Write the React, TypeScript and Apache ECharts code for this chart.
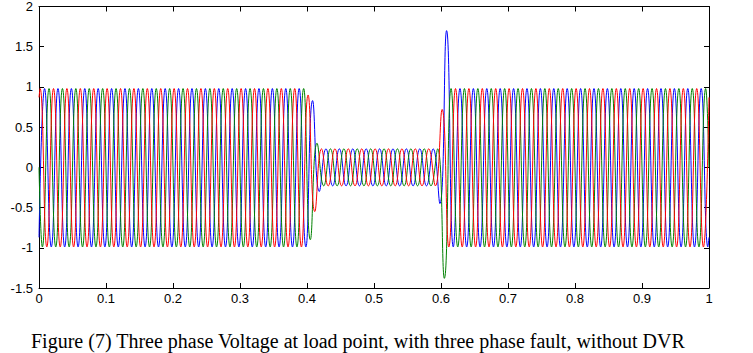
import React, { useEffect, useRef } from "react";
import * as echarts from "echarts";

// Half-cycle peak values (50 Hz -> one peak every 0.01 s)
const HALF_PERIOD = 0.01;
const RED_T0 = 1 / 600;
const GREEN_T0 = 0.005;
const BLUE_T0 = 1 / 120;

const redPeaks = [
  0.98, -0.99, 0.98, -0.99, 0.98, -0.99, 0.98, -0.99, 0.98, -0.99,
  0.98, -0.99, 0.98, -0.99, 0.98, -0.99, 0.98, -0.99, 0.98, -0.99,
  0.98, -0.99, 0.98, -0.99, 0.98, -0.99, 0.98, -0.99, 0.98, -0.99,
  0.98, -0.99, 0.98, -0.99, 0.98, -0.99, 0.98, -0.99, 0.98, -0.99,
  0.9, -0.55, 0.23, -0.23, 0.23, -0.23, 0.23, -0.23, 0.23, -0.23,
  0.23, -0.23, 0.23, -0.23, 0.23, -0.23, 0.23, -0.23, 0.23, -0.23,
  0.72, -0.99, 0.98, -0.99, 0.98, -0.99, 0.98, -0.99, 0.98, -0.99,
  0.98, -0.99, 0.98, -0.99, 0.98, -0.99, 0.98, -0.99, 0.98, -0.99,
  0.98, -0.99, 0.98, -0.99, 0.98, -0.99, 0.98, -0.99, 0.98, -0.99,
  0.98, -0.99, 0.98, -0.99, 0.98, -0.99, 0.98, -0.99, 0.98, -0.99,
];

const greenPeaks = [
  -0.99, 0.98, -0.99, 0.98, -0.99, 0.98, -0.99, 0.98, -0.99, 0.98,
  -0.99, 0.98, -0.99, 0.98, -0.99, 0.98, -0.99, 0.98, -0.99, 0.98,
  -0.99, 0.98, -0.99, 0.98, -0.99, 0.98, -0.99, 0.98, -0.99, 0.98,
  -0.99, 0.98, -0.99, 0.98, -0.99, 0.98, -0.99, 0.98, -0.99, 0.98,
  -0.9, 0.3, -0.23, 0.23, -0.23, 0.23, -0.23, 0.23, -0.23, 0.23,
  -0.23, 0.23, -0.23, 0.23, -0.23, 0.23, -0.23, 0.23, -0.23, 0.23,
  -1.38, 0.98, -0.99, 0.98, -0.99, 0.98, -0.99, 0.98, -0.99, 0.98,
  -0.99, 0.98, -0.99, 0.98, -0.99, 0.98, -0.99, 0.98, -0.99, 0.98,
  -0.99, 0.98, -0.99, 0.98, -0.99, 0.98, -0.99, 0.98, -0.99, 0.98,
  -0.99, 0.98, -0.99, 0.98, -0.99, 0.98, -0.99, 0.98, -0.99, 0.98,
];

const bluePeaks = [
  0.98, -0.99, 0.98, -0.99, 0.98, -0.99, 0.98, -0.99, 0.98, -0.99,
  0.98, -0.99, 0.98, -0.99, 0.98, -0.99, 0.98, -0.99, 0.98, -0.99,
  0.98, -0.99, 0.98, -0.99, 0.98, -0.99, 0.98, -0.99, 0.98, -0.99,
  0.98, -0.99, 0.98, -0.99, 0.98, -0.99, 0.98, -0.99, 0.98, -0.99,
  0.83, -0.3, 0.23, -0.23, 0.23, -0.23, 0.23, -0.23, 0.23, -0.23,
  0.23, -0.23, 0.23, -0.23, 0.23, -0.23, 0.23, -0.23, 0.23, -0.45,
  1.7, -0.99, 0.98, -0.99, 0.98, -0.99, 0.98, -0.99, 0.98, -0.99,
  0.98, -0.99, 0.98, -0.99, 0.98, -0.99, 0.98, -0.99, 0.98, -0.99,
  0.98, -0.99, 0.98, -0.99, 0.98, -0.99, 0.98, -0.99, 0.98, -0.99,
  0.98, -0.99, 0.98, -0.99, 0.98, -0.99, 0.98, -0.99, 0.98, -0.99,
];

// values at t = 0 and t = 1 (red, green, blue)
const startValues = [0.87, 0, -0.87];
const endValues = [0.87, 0, -0.87];

const xTicks = ["0", "0.1", "0.2", "0.3", "0.4", "0.5", "0.6", "0.7", "0.8", "0.9", "1"];
const CAPTION = "Figure (7) Three phase Voltage at load point, with three phase fault, without DVR";

function buildSeries(peaks: number[], t0: number, startV: number, endV: number) {
  const pts: [number, number][] = [[0, startV]];
  peaks.forEach((v, i) => pts.push([t0 + i * HALF_PERIOD, v]));
  pts.push([1, endV]);
  return pts;
}

export default function App() {
  const ref = useRef<HTMLDivElement>(null);
  useEffect(() => {
    if (!ref.current) return;
    const chart = echarts.init(ref.current, undefined, { renderer: "svg" });
    const axisFont = { fontFamily: "Liberation Sans", fontSize: 13, color: "#000" };
    const mk = (name: string, data: [number, number][], color: string) => ({
      name,
      type: "line",
      data,
      smooth: 0.5,
      showSymbol: false,
      symbol: "none",
      lineStyle: { color, width: 1 },
      clip: true,
    });
    const boxAxis = {
      axisLine: { show: true, onZero: false, lineStyle: { color: "#000", width: 1 } },
      axisTick: { show: true, inside: true, length: 5, lineStyle: { color: "#000" } },
      splitLine: { show: false },
    };
    chart.setOption({
      animation: false,
      backgroundColor: "#fff",
      grid: { left: 39, right: 44, top: 6, bottom: 65, containLabel: false },
      title: {
        text: CAPTION,
        left: 31,
        top: 331,
        padding: 0,
        textStyle: { fontFamily: "Liberation Serif", fontSize: 20, fontWeight: "normal", color: "#000" },
      },
      xAxis: [
        {
          type: "value",
          min: 0,
          max: 1,
          interval: 0.1,
          position: "bottom",
          ...boxAxis,
          axisLabel: {
            ...axisFont,
            margin: 4,
            formatter: (v: number) => xTicks[Math.round(v * 10)] ?? "",
          },
        },
        {
          type: "value",
          min: 0,
          max: 1,
          interval: 0.1,
          position: "top",
          ...boxAxis,
          axisLabel: { show: false },
        },
      ],
      yAxis: [
        {
          type: "value",
          min: -1.5,
          max: 2,
          interval: 0.5,
          position: "left",
          ...boxAxis,
          axisLabel: { ...axisFont, margin: 6 },
        },
        {
          type: "value",
          min: -1.5,
          max: 2,
          interval: 0.5,
          position: "right",
          ...boxAxis,
          axisLabel: { show: false },
        },
      ],
      series: [
        mk("Phase B", buildSeries(bluePeaks, BLUE_T0, startValues[2], endValues[2]), "#0000ff"),
        mk("Phase C", buildSeries(greenPeaks, GREEN_T0, startValues[1], endValues[1]), "#008000"),
        mk("Phase A", buildSeries(redPeaks, RED_T0, startValues[0], endValues[0]), "#ff0000"),
      ],
    });
    return () => chart.dispose();
  }, []);
  return (
    <div
      ref={ref}
      style={{ position: "absolute", left: 0, top: 0, width: 753, height: 353, background: "#fff" }}
    />
  );
}
